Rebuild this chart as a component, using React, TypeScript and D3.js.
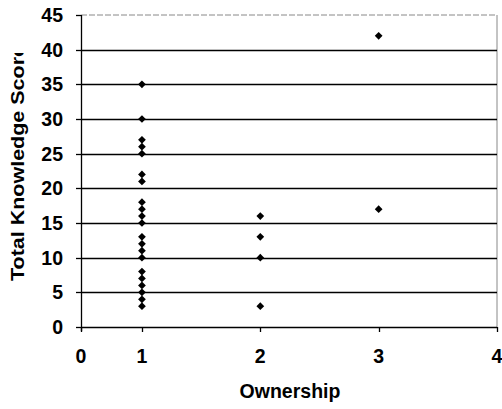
import React from "react";
import * as d3 from "d3";

const ownershipLevels = [1, 2, 3];
const scoresOwnership1 = [35, 30, 27, 26, 25, 22, 21, 18, 17, 16, 15, 13, 12, 11, 10, 8, 7, 6, 5, 4, 3];
const scoresOwnership2 = [16, 13, 10, 3];
const scoresOwnership3 = [42, 17];
const yTicks = [0, 5, 10, 15, 20, 25, 30, 35, 40, 45];
const xTickValues = [0.485, 1, 2, 3, 4];
const xTickLabels = ["0", "1", "2", "3", "4"];
const xTitle = "Ownership";
const yTitle = "Total Knowledge Score";

const W = 502;
const H = 409;
const L = 81, R = 497, T = 15, B = 327;
const FONT = "'Liberation Sans', Arial, sans-serif";

export default function App() {
  const x = d3.scaleLinear().domain([0.485, 4]).range([L, R]);
  const y = d3.scaleLinear().domain([0, 45]).range([B, T]);
  const groups = [scoresOwnership1, scoresOwnership2, scoresOwnership3];
  const points = ownershipLevels.flatMap((o, i) => groups[i].map((s) => ({ o, s })));
  const diamond = d3.symbol().type(d3.symbolDiamond2).size(38)();

  return (
    <svg width={W} height={H} style={{ position: "absolute", left: 0, top: 0, background: "#fff" }}>
      <defs>
        <clipPath id="ytclip">
          <rect x={0} y={53} width={60} height={300} />
        </clipPath>
      </defs>
      <rect x={0} y={0} width={W} height={H} fill="#fff" />
      {/* plot border top/right */}
      <line x1={L} x2={R} y1={y(45)} y2={y(45)} stroke="#888" strokeWidth={1} strokeDasharray="6,2" />
      <line x1={R} x2={R} y1={y(45)} y2={B} stroke="#888" strokeWidth={1} />
      {/* gridlines */}
      {yTicks.filter((t) => t > 0 && t < 45).map((t) => (
        <line key={t} x1={L} x2={R} y1={Math.round(y(t)) + 0.5} y2={Math.round(y(t)) + 0.5} stroke="#000" strokeWidth={1.3} />
      ))}
      {/* axes */}
      <line x1={L + 0.5} x2={L + 0.5} y1={T} y2={B + 4} stroke="#000" strokeWidth={1.3} />
      <line x1={L} x2={R} y1={B + 0.5} y2={B + 0.5} stroke="#000" strokeWidth={1.3} />
      {yTicks.map((t) => (
        <g key={t}>
          <line x1={L - 5} x2={L} y1={Math.round(y(t)) + 0.5} y2={Math.round(y(t)) + 0.5} stroke="#000" strokeWidth={1.3} />
          <text x={63} y={y(t)} dy="0.36em" textAnchor="end" fontFamily={FONT} fontWeight="bold" fontSize={19.5} fill="#000">
            {t}
          </text>
        </g>
      ))}
      {xTickValues.map((v, i) => (
        <g key={v}>
          <line x1={Math.round(x(v)) + 0.5} x2={Math.round(x(v)) + 0.5} y1={B} y2={B + 5} stroke="#000" strokeWidth={1.3} />
          <text x={x(v)} y={363} textAnchor="middle" fontFamily={FONT} fontWeight="bold" fontSize={19.5} fill="#000">
            {xTickLabels[i]}
          </text>
        </g>
      ))}
      <text x={(L + R) / 2 + 1} y={398} textAnchor="middle" fontFamily={FONT} fontWeight="bold" fontSize={19.5} fill="#000">
        {xTitle}
      </text>
      <g clipPath="url(#ytclip)">
        <text
          transform={`translate(23.5,281) rotate(-90)`}
          x={0}
          y={0}
          textLength={236}
          lengthAdjust="spacingAndGlyphs"
          fontFamily={FONT}
          fontWeight="bold"
          fontSize={19}
          fill="#000"
        >
          {yTitle}
        </text>
      </g>
      {points.map((p, i) => (
        <path key={i} d={diamond} transform={`translate(${x(p.o)},${y(p.s)})`} fill="#000" />
      ))}
    </svg>
  );
}
